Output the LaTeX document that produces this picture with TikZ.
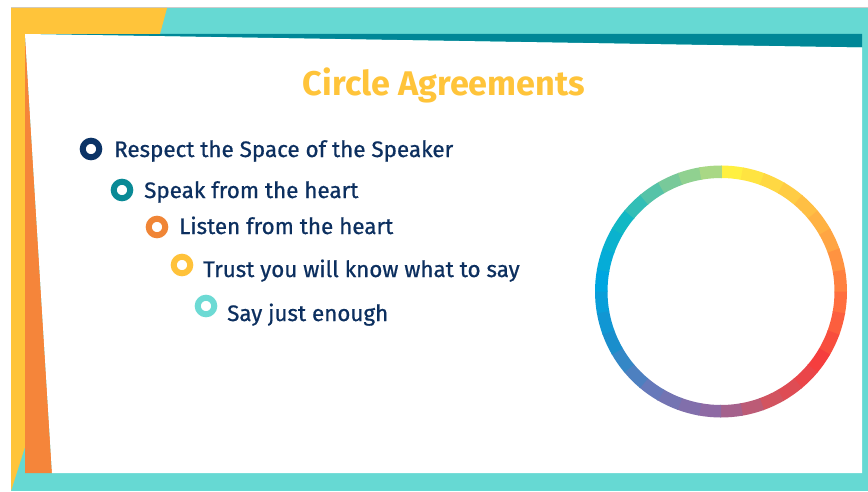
\documentclass[tikz,border=0pt]{standalone}
\usepackage{fontspec}
\setmainfont{Fira Sans}
\definecolor{slideTeal}{HTML}{66D9D3}
\definecolor{deepTeal}{HTML}{008797}
\definecolor{slideYellow}{HTML}{FFC43A}
\definecolor{slideOrange}{HTML}{F5853A}
\definecolor{inkNavy}{HTML}{0C2F5F}
\definecolor{ringNavy}{HTML}{0B3366}
\definecolor{ringTeal}{HTML}{0A8A96}
\definecolor{ringOrange}{HTML}{F08536}
\definecolor{ringYellow}{HTML}{FFC23A}
\definecolor{ringAqua}{HTML}{6DDAD4}
% colour wheel stops, every 30 degrees clockwise from the top
\definecolor{cw0}{HTML}{FFF040}
\definecolor{cw1}{HTML}{FFCC44}
\definecolor{cw2}{HTML}{FFA543}
\definecolor{cw3}{HTML}{FF6E3E}
\definecolor{cw4}{HTML}{F53E3E}
\definecolor{cw5}{HTML}{D25460}
\definecolor{cw6}{HTML}{8E6AA4}
\definecolor{cw7}{HTML}{6679BA}
\definecolor{cw8}{HTML}{1A8ECC}
\definecolor{cw9}{HTML}{00A6E0}
\definecolor{cw10}{HTML}{10B8C4}
\definecolor{cw11}{HTML}{78C99A}
\definecolor{cw12}{HTML}{C2E07A}
\begin{document}
\begin{tikzpicture}[x=1pt,y=1pt,
  ring/.style={circle,line width=6pt,minimum size=16.5pt,inner sep=0pt},
  item/.style={anchor=base west,inner sep=0pt,text=inkNavy,font=\fontsize{22.4}{23}\selectfont\addfontfeatures{FakeBold=0.7}}]
\useasboundingbox (0,0) rectangle (868,491);
% frame
\fill[slideTeal](11,0)rectangle(868,483);
\draw[gray!40,line width=1pt](11,483.5)--(868,483.5);
\fill[deepTeal](25,457)--(862,457)--(862,443.5)--cycle;
\fill[slideYellow](11,483)--(167,483)--(160,457)--(25,457)--(25,44)--(11,0)--cycle;
\fill[slideOrange](25,457)--(25,18)--(52,18)--cycle;
\fill[white](25,457)--(862,443.5)--(862,18)--(52,18)--cycle;
% title
\node[anchor=base,inner sep=0pt,text=slideYellow,font=\bfseries\fontsize{34.2}{34}\selectfont](title)at(444,395){Circle Agreements};
% agreements
\node[ring,draw=ringNavy](r1)at(91,342){};
\node[item](t1)at(114,334){Respect the Space of the Speaker};
\node[ring,draw=ringTeal](r2)at(122,301){};
\node[item](t2)at(144,293){Speak from the heart};
\node[ring,draw=ringOrange](r3)at(157,264){};
\node[item](t3)at(179,257){Listen from the heart};
\node[ring,draw=ringYellow](r4)at(182,226){};
\node[item](t4)at(203,214){Trust you will know what to say};
\node[ring,draw=ringAqua](r5)at(206,185){};
\node[item](t5)at(227,170){Say just enough};
% colour wheel
\coordinate(wheel)at(721,199.5);
\foreach \s/\ca/\cb in {0/cw0/cw1,1/cw1/cw2,2/cw2/cw3,3/cw3/cw4,4/cw4/cw5,5/cw5/cw6,
  6/cw6/cw7,7/cw7/cw8,8/cw8/cw9,9/cw9/cw10,10/cw10/cw11,11/cw11/cw12}
  \foreach \k in {0,1,2}{
    \pgfmathtruncatemacro\p{100-33*\k}
    \pgfmathsetmacro\a{90-30*\s-10*\k}
    \pgfmathsetmacro\b{\a-10.4}
    \fill[\ca!\p!\cb,shift={(wheel)}](\a:126)arc[start angle=\a,end angle=\b,radius=126]
      --(\b:113.5)arc[start angle=\b,end angle=\a,radius=113.5]--cycle;
  }
\end{tikzpicture}
\end{document}
